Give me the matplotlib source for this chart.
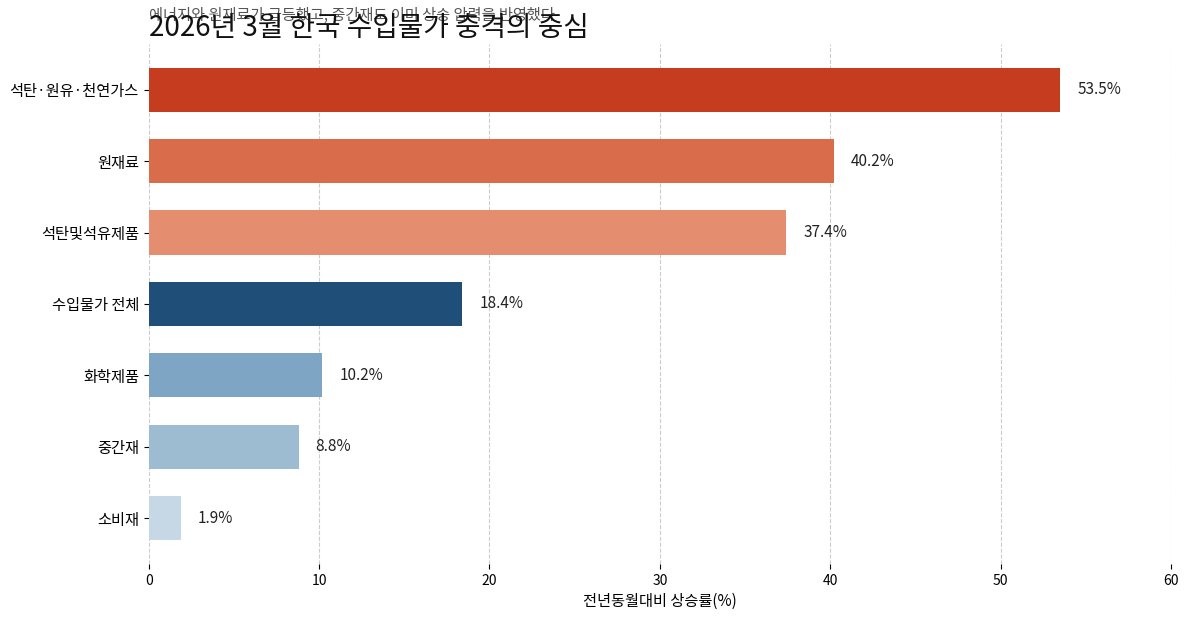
import matplotlib
matplotlib.use("Agg")
import matplotlib.pyplot as plt

plt.rcParams['font.family'] = ['Noto Sans CJK KR', 'DejaVu Sans']

categories = ['석탄·원유·천연가스', '원재료', '석탄및석유제품', '수입물가 전체', '화학제품', '중간재', '소비재']
values = [53.5, 40.2, 37.4, 18.4, 10.2, 8.8, 1.9]
colors = ['#c53d1e', '#d96c4a', '#e48e6f', '#1f4e79', '#7ea6c4', '#9dbcd2', '#c6d8e6']

fig, ax = plt.subplots(figsize=(11.89, 6.21), dpi=100)
fig.subplots_adjust(left=0.125, right=0.985, top=0.929, bottom=0.092)

y = list(range(len(categories)))
ax.barh(y, values, color=colors, height=0.62, zorder=3)
ax.invert_yaxis()
ax.set_yticks(y)
ax.set_yticklabels(categories, fontsize=11)
ax.set_xlim(0, 60)

for i, v in enumerate(values):
    ax.text(v + 1, i, f'{v:.1f}%', va='center', ha='left', fontsize=11, color='#222222')

ax.grid(axis='x', linestyle='--', color='#cccccc', linewidth=0.8, zorder=0)
for s in ax.spines.values():
    s.set_visible(False)
ax.tick_params(axis='x', labelsize=10)
ax.set_xlabel('전년동월대비 상승률(%)', fontsize=11)

# 제목과 부제목 (원본처럼 겹쳐서 배치)
fig.text(149 / 1189, 1 - 20 / 621, '에너지와 원재료가 급등했고, 중간재도 이미 상승 압력을 반영했다',
         fontsize=11, ha='left', va='baseline', color='#555555')
fig.text(149 / 1189, 1 - 36 / 621, '2026년 3월 한국 수입물가 충격의 중심',
         fontsize=20, ha='left', va='baseline', color='#111111')

fig.savefig('out.png', dpi=100)
